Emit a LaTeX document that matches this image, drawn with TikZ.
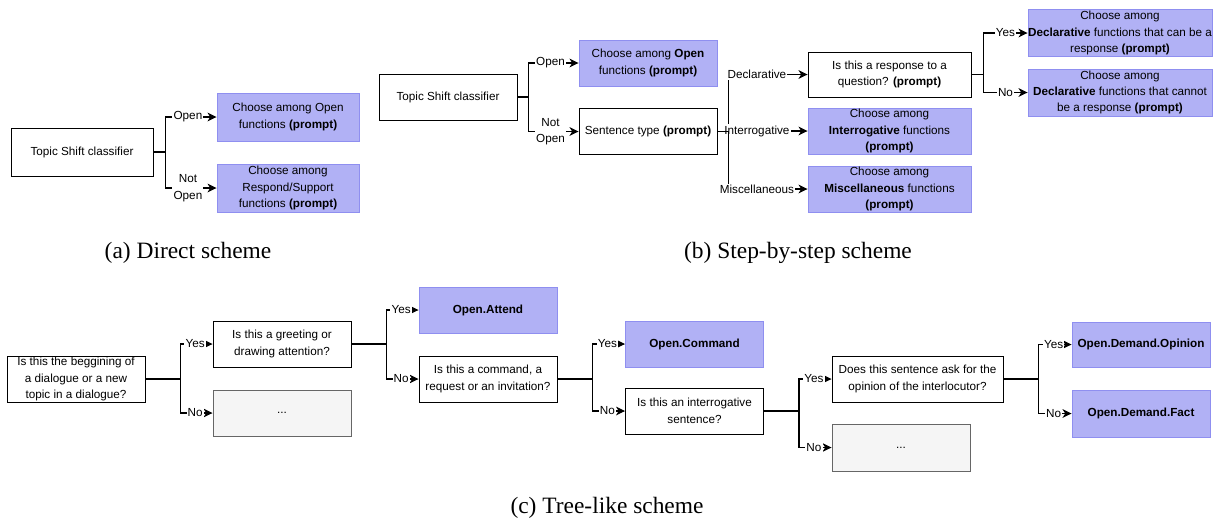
\documentclass[tikz,border=0pt]{standalone}
\usepackage{fontspec}
\setmainfont{Liberation Serif}
\setsansfont{Liberation Sans}
\usetikzlibrary{arrows.meta, positioning}
\definecolor{cpurple}{HTML}{B1B1F5}
\definecolor{cpurpleline}{HTML}{8F8FF0}
\definecolor{cgreyfill}{HTML}{F5F5F5}
\definecolor{cgreyline}{HTML}{666666}
\tikzset{
  every picture/.style={font=\sffamily\fontsize{10}{14}\selectfont, line width=0.8pt},
  box/.style={draw=black, fill=white, rectangle, align=center, inner sep=0pt,
    minimum width=4.14cm, minimum height=1.38cm},
  choice/.style={box, draw=cpurpleline, fill=cpurple},
  blank/.style={box, draw=cgreyline, fill=cgreyfill},
  wd/.style={minimum width=#1*0.03cm},
  ht/.style={minimum height=#1*0.03cm},
  edge/.style={draw=black, line width=0.9pt, -{Stealth[length=2.7mm, width=2.6mm, inset=0.8mm]}},
  lab/.style={fill=white, inner sep=1pt, align=center},
  caption/.style={font=\rmfamily\fontsize{20}{24}\selectfont},
}

\begin{document}
\begin{tikzpicture}[x=0.03cm, y=-0.03cm]
  \useasboundingbox (0,0) rectangle (1213,519);
  % (a) direct
  \node[box, wd=142, ht=48] (tsa) at (82,152) {Topic Shift classifier};
  \node[choice, wd=142, ht=48] (opa) at (288,117) {Choose among Open\\functions \textbf{(prompt)}};
  \node[choice, wd=142, ht=48] (rsa) at (288,188) {Choose among\\Respond/Support\\functions \textbf{(prompt)}};
  \draw[edge] (tsa.east) -- ++(12,0) |- node[lab, pos=0.72] {Open} (opa.west);
  \draw[edge] (tsa.east) -- ++(12,0) |- node[lab, pos=0.72] {Not\\Open} (rsa.west);
  \node[caption] (capa) at (188,253) {(a) Direct scheme};
  % (b) step-by-step
  \node[box] (tsb) at (448,97) {Topic Shift classifier};
  \node[choice] (opb) at (648,63) {Choose among \textbf{Open}\\functions \textbf{(prompt)}};
  \node[box] (stb) at (648,131.5) {Sentence type \textbf{(prompt)}};
  \draw[edge] (tsb.east) -- ++(11,0) |- node[lab, pos=0.72] {Open} (opb.west);
  \draw[edge] (tsb.east) -- ++(11,0) |- node[lab, pos=0.72] {Not\\Open} (stb.west);
  \node[box, wd=163, ht=45] (rqb) at (889.5,74.5) {Is this a response to a\\question? \textbf{(prompt)}};
  \node[choice, wd=163] (inb) at (889.5,131) {Choose among\\\textbf{Interrogative} functions\\\textbf{(prompt)}};
  \node[choice, wd=163] (mib) at (889.5,189) {Choose among\\\textbf{Miscellaneous} functions\\\textbf{(prompt)}};
  \foreach \t/\l in {rqb/Declarative, inb/Interrogative, mib/Miscellaneous}
    \draw[edge] (stb.east) -- ++(11,0) |- node[lab, pos=0.68] {\l} (\t.west);
  \node[choice, wd=184, ht=47] (dyb) at (1120,33) {Choose among\\\textbf{Declarative} functions that can be a\\response \textbf{(prompt)}};
  \node[choice, wd=184, ht=47] (dnb) at (1120,92.5) {Choose among\\\textbf{Declarative} functions that cannot\\be a response \textbf{(prompt)}};
  \draw[edge] (rqb.east) -- ++(12,0) |- node[lab, pos=0.75] {Yes} (dyb.west);
  \draw[edge] (rqb.east) -- ++(12,0) |- node[lab, pos=0.75] {No} (dnb.west);
  \node[caption] (capb) at (798,253) {(b) Step-by-step scheme};
  % (c) tree-like
  \node[box] (q1) at (76,379) {Is this the beggining of\\a dialogue or a new\\topic in a dialogue?};
  \node[box] (q2) at (282,344) {Is this a greeting or\\drawing attention?};
  \node[blank] (d1) at (282,413) {...};
  \node[choice] (att) at (488,310) {\textbf{Open.Attend}};
  \node[box] (q3) at (488,379) {Is this a command, a\\request or an invitation?};
  \node[choice] (cmd) at (694.5,344) {\textbf{Open.Command}};
  \node[box] (q4) at (694.5,411) {Is this an interrogative\\sentence?};
  \node[box, wd=171] (q5) at (917.5,379) {Does this sentence ask for the\\opinion of the interlocutor?};
  \node[blank, ht=47] (d2) at (901,447.5) {...};
  \node[choice, ht=45] (dop) at (1141,344.5) {\textbf{Open.Demand.Opinion}};
  \node[choice, ht=47] (dfa) at (1141,413.5) {\textbf{Open.Demand.Fact}};
  \foreach \s/\y/\n in {q1/q2/d1, q2/att/q3, q3/cmd/q4, q4/q5/d2, q5/dop/dfa} {
    \draw[edge] (\s.east) -- ++(35,0) |- node[lab, pos=0.73] {Yes} (\y.west);
    \draw[edge] (\s.east) -- ++(35,0) |- node[lab, pos=0.73] {No} (\n.west);
  }
  \node[caption] (capc) at (607,508) {(c) Tree-like scheme};
\end{tikzpicture}
\end{document}
